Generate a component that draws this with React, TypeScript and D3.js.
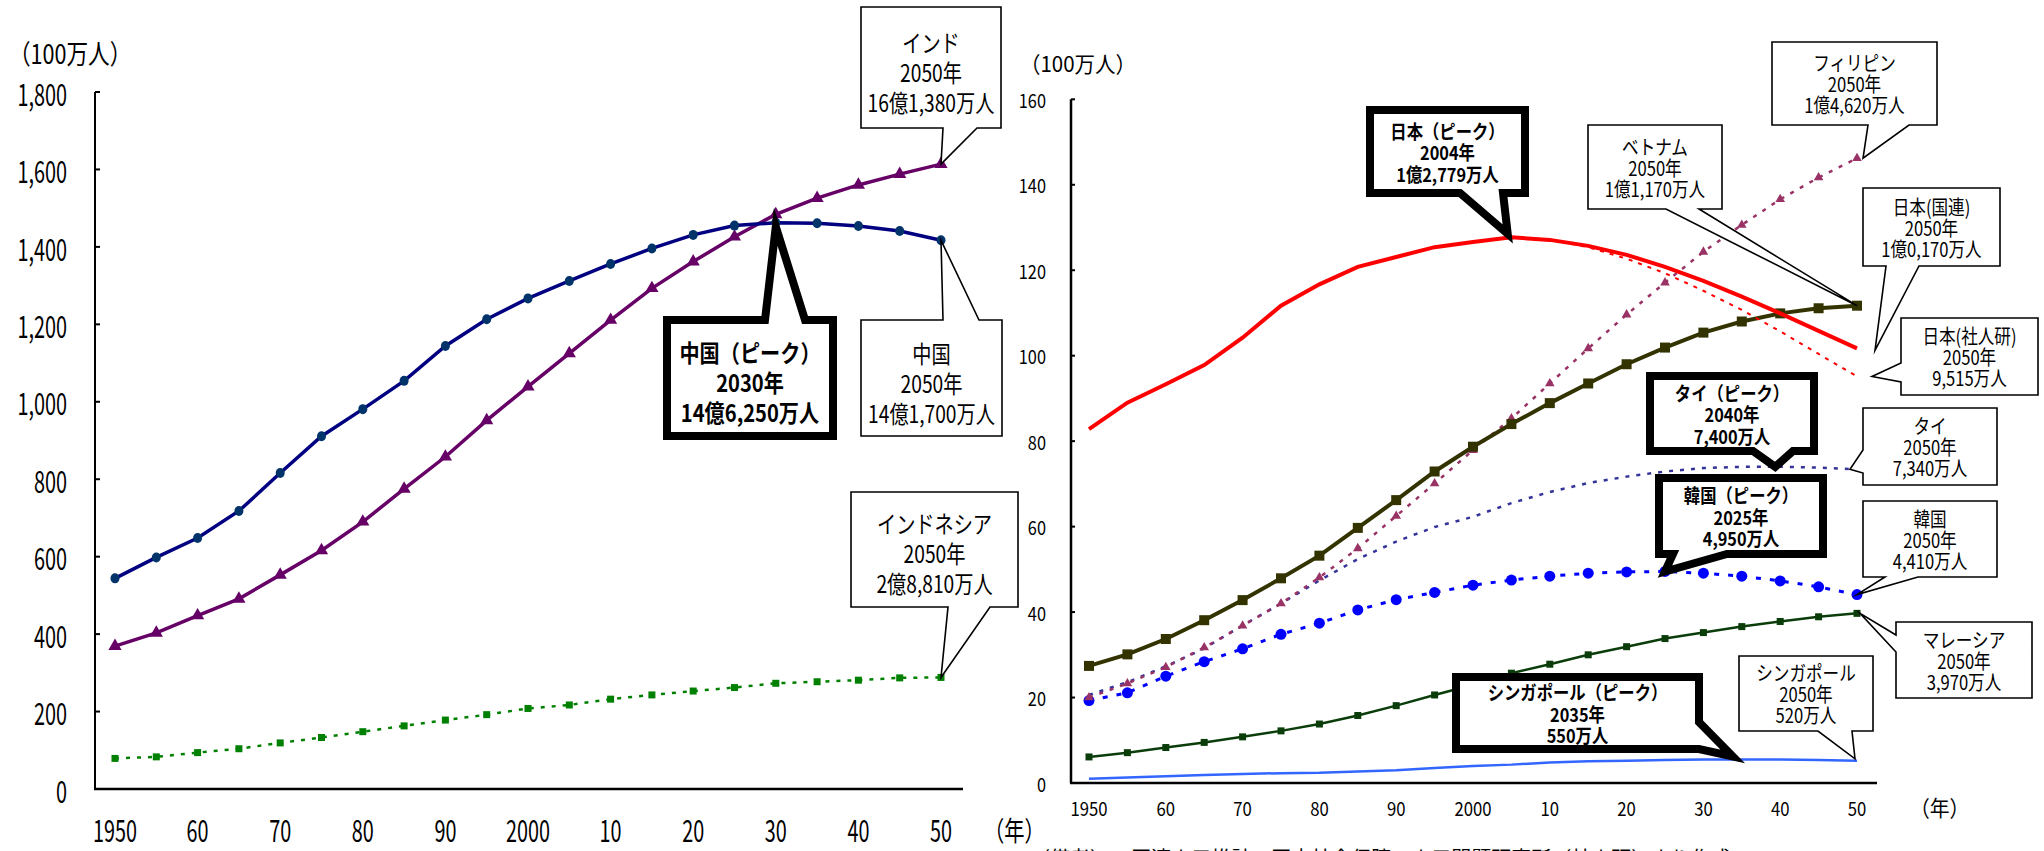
import React from 'react';
import * as d3 from 'd3';

// ---------- data ----------
const YEARS = [1950, 1955, 1960, 1965, 1970, 1975, 1980, 1985, 1990, 1995, 2000, 2005, 2010, 2015, 2020, 2025, 2030, 2035, 2040, 2045, 2050];

// left chart (million persons)
const CHINA = [544, 598, 648, 718, 816, 911, 981, 1054, 1144, 1213, 1267, 1312, 1356, 1396, 1431, 1455, 1462.5, 1461, 1454, 1441, 1417];
const INDIA = [369, 403, 448, 491, 553, 616, 690, 775, 858, 952, 1039, 1125, 1211, 1293, 1362, 1426, 1484, 1526, 1560, 1588, 1613.8];
const INDONESIA = [79, 83, 94, 104, 119, 133, 148, 163, 178, 192, 208, 217, 232, 243, 253, 262, 273, 277, 281, 287, 288.1];

const LEFT_Y_TICKS = [0, 200, 400, 600, 800, 1000, 1200, 1400, 1600, 1800];
const LEFT_Y_LABELS = ['0', '200', '400', '600', '800', '1,000', '1,200', '1,400', '1,600', '1,800'];
const X_TICKS = [1950, 1960, 1970, 1980, 1990, 2000, 2010, 2020, 2030, 2040, 2050];
const X_LABELS = ['1950', '60', '70', '80', '90', '2000', '10', '20', '30', '40', '50'];

// right chart (million persons)
const JAPAN_UN = [82.8, 89.0, 93.3, 97.8, 104.2, 111.7, 116.7, 120.8, 123.1, 125.4, 126.6, 127.7, 127.1, 125.7, 123.6, 120.8, 117.5, 113.8, 109.9, 105.8, 101.7];
const IPSS_YEARS = [2005, 2010, 2015, 2020, 2025, 2030, 2035, 2040, 2045, 2050];
const JAPAN_IPSS = [127.7, 127.2, 125.4, 122.7, 119.3, 115.2, 110.7, 105.7, 100.4, 95.15];
const VIETNAM = [27.4, 30.1, 33.7, 38.1, 42.8, 47.9, 53.2, 59.7, 66.2, 72.9, 78.7, 84.0, 88.9, 93.5, 98.0, 101.9, 105.4, 108.0, 109.9, 111.1, 111.7];
const PHILIPPINES = [20.0, 23.3, 27.1, 31.7, 36.8, 42.0, 48.1, 54.9, 62.5, 70.1, 77.9, 85.3, 93.5, 101.7, 109.6, 117.1, 124.3, 130.6, 136.6, 141.7, 146.2];
const THAILAND = [20.6, 23.6, 27.3, 31.5, 36.9, 42.0, 47.4, 52.4, 56.5, 59.9, 62.3, 65.5, 68.1, 70.2, 71.7, 72.9, 73.7, 74.0, 74.0, 73.8, 73.4];
const KOREA = [19.3, 21.1, 25.0, 28.4, 31.4, 34.8, 37.4, 40.5, 42.9, 44.6, 46.3, 47.5, 48.4, 49.1, 49.4, 49.5, 49.1, 48.4, 47.3, 45.9, 44.1];
const MALAYSIA = [6.1, 7.1, 8.3, 9.5, 10.8, 12.2, 13.8, 15.8, 18.1, 20.6, 23.0, 25.7, 27.8, 30.0, 31.9, 33.8, 35.2, 36.6, 37.8, 38.9, 39.7];
const SINGAPORE = [1.0, 1.3, 1.6, 1.9, 2.1, 2.3, 2.4, 2.7, 3.0, 3.5, 4.0, 4.3, 4.8, 5.1, 5.2, 5.4, 5.5, 5.5, 5.5, 5.4, 5.2];
const JAPAN_PEAK_YEAR = 2004;
const JAPAN_PEAK_VALUE = 127.79;

const RIGHT_Y_TICKS = [0, 20, 40, 60, 80, 100, 120, 140, 160];

const FONT = "'Noto Sans CJK JP', 'Noto Sans', sans-serif";

// ---------- helpers ----------
type TProps = { x: number; y: number; text: string; size: number; sx?: number; anchor?: string; weight?: string | number; fill?: string };
function T({ x, y, text, size, sx = 1, anchor = 'middle', weight = 'normal', fill = '#000' }: TProps) {
  return (
    <text
      transform={`translate(${x},${y}) scale(${sx},1)`}
      textAnchor={anchor as any}
      dominantBaseline="central"
      fontSize={size}
      fontWeight={weight as any}
      fontFamily={FONT}
      fill={fill}
    >
      {text}
    </text>
  );
}

type Side = 'top' | 'bottom' | 'left' | 'right';
function calloutPath(box: number[], side: Side, a: number, b: number, tip: number[], inset = 0) {
  const x0 = box[0] + inset, y0 = box[1] + inset, x1 = box[2] - inset, y1 = box[3] - inset;
  const [tx, ty] = tip;
  const p = d3.path();
  if (side === 'bottom') {
    p.moveTo(x0, y0); p.lineTo(x1, y0); p.lineTo(x1, y1); p.lineTo(b, y1); p.lineTo(tx, ty); p.lineTo(a, y1); p.lineTo(x0, y1); p.closePath();
  } else if (side === 'top') {
    p.moveTo(x0, y0); p.lineTo(a, y0); p.lineTo(tx, ty); p.lineTo(b, y0); p.lineTo(x1, y0); p.lineTo(x1, y1); p.lineTo(x0, y1); p.closePath();
  } else if (side === 'left') {
    p.moveTo(x0, y0); p.lineTo(x1, y0); p.lineTo(x1, y1); p.lineTo(x0, y1); p.lineTo(x0, b); p.lineTo(tx, ty); p.lineTo(x0, a); p.closePath();
  } else {
    p.moveTo(x0, y0); p.lineTo(x1, y0); p.lineTo(x1, a); p.lineTo(tx, ty); p.lineTo(x1, b); p.lineTo(x1, y1); p.lineTo(x0, y1); p.closePath();
  }
  return p.toString();
}

type Callout = {
  lines: string[]; box: number[]; side: Side; a: number; b: number; tip: number[];
  bold?: boolean; size: number; sx: number; gap: number; dy?: number;
};

function CalloutView({ c }: { c: Callout }) {
  const stroke = c.bold ? 8 : 1.6;
  const d = calloutPath(c.box, c.side, c.a, c.b, c.tip, c.bold ? 4 : 0);
  const cx = (c.box[0] + c.box[2]) / 2;
  const cy = (c.box[1] + c.box[3]) / 2 + (c.dy || 0);
  const n = c.lines.length;
  return (
    <g>
      <path d={d} fill="#fff" stroke="#000" strokeWidth={stroke} strokeLinejoin="miter" strokeMiterlimit={10} />
      <text
        transform={`translate(${cx},${cy}) scale(${c.sx},1)`}
        textAnchor="middle"
        dominantBaseline="central"
        fontSize={c.size}
        fontWeight={c.bold ? 'bold' : 'normal'}
        fontFamily={FONT}
        fill="#000"
      >
        {c.lines.map((t, i) => (
          <tspan key={i} x={0} y={(i - (n - 1) / 2) * c.gap}>{t}</tspan>
        ))}
      </text>
    </g>
  );
}

// ---------- component ----------
export default function App() {
  // Left chart scales
  const xL = d3.scaleLinear().domain([1950, 2050]).range([115, 941]);
  const yL = d3.scaleLinear().domain([0, 1800]).range([789, 92]);
  // Right chart scales
  const xR = d3.scaleLinear().domain([1950, 2050]).range([1089, 1857]);
  const yR = d3.scaleLinear().domain([0, 160]).range([783, 99.3]);

  const lineL = (vals: number[]) => d3.line<number>().x((_, i) => xL(YEARS[i])).y((v) => yL(v))(vals) || '';
  const lineR = (vals: number[], yrs: number[] = YEARS) => d3.line<number>().x((_, i) => xR(yrs[i])).y((v) => yR(v))(vals) || '';

  const tri = (size: number) => d3.symbol().type(d3.symbolTriangle).size(size)() || '';
  const sq = (size: number) => d3.symbol().type(d3.symbolSquare).size(size)() || '';

  const leftCallouts: Callout[] = [
    { lines: ['インド', '2050年', '16億1,380万人'], box: [861, 7, 1001, 128], side: 'bottom', a: 943, b: 977, tip: [xL(2050), yL(INDIA[20])], size: 24, sx: 0.8, gap: 30, dy: 3 },
    { lines: ['中国', '2050年', '14億1,700万人'], box: [861, 320, 1002, 436], side: 'top', a: 943, b: 979, tip: [xL(2050), yL(CHINA[20])], size: 24, sx: 0.8, gap: 30, dy: 4 },
    { lines: ['インドネシア', '2050年', '2億8,810万人'], box: [851, 492, 1018, 607], side: 'bottom', a: 948, b: 990, tip: [xL(2050), yL(INDONESIA[20])], size: 24, sx: 0.8, gap: 30, dy: 2 },
    { lines: ['中国（ピーク）', '2030年', '14億6,250万人'], box: [663, 316, 837, 440], side: 'top', a: 765, b: 805, tip: [xL(2030), yL(CHINA[16]) + 4], bold: true, size: 24, sx: 0.84, gap: 30, dy: 3 },
  ];

  const rightCallouts: Callout[] = [
    { lines: ['フィリピン', '2050年', '1億4,620万人'], box: [1772, 42, 1937, 125], side: 'bottom', a: 1868, b: 1909, tip: [xR(2050) + 6, yR(PHILIPPINES[20])], size: 20, sx: 0.83, gap: 21 },
    { lines: ['ベトナム', '2050年', '1億1,170万人'], box: [1588, 125, 1722, 209], side: 'bottom', a: 1666, b: 1699, tip: [xR(2050), yR(VIETNAM[20])], size: 20, sx: 0.83, gap: 21 },
    { lines: ['日本(国連)', '2050年', '1億0,170万人'], box: [1863, 188, 2000, 266], side: 'bottom', a: 1886, b: 1919, tip: [xR(2050) + 18, yR(JAPAN_UN[20]) + 2], size: 20, sx: 0.83, gap: 21 },
    { lines: ['日本(社人研)', '2050年', '9,515万人'], box: [1901, 318, 2038, 395], side: 'left', a: 363, b: 382, tip: [xR(2050) + 15, yR(JAPAN_IPSS[9])], size: 20, sx: 0.83, gap: 21 },
    { lines: ['タイ', '2050年', '7,340万人'], box: [1863, 408, 1997, 485], side: 'left', a: 450, b: 473, tip: [xR(2050) - 7, yR(THAILAND[20])], size: 20, sx: 0.83, gap: 21 },
    { lines: ['韓国', '2050年', '4,410万人'], box: [1863, 501, 1997, 577], side: 'bottom', a: 1885, b: 1918, tip: [xR(2050), yR(KOREA[20])], size: 20, sx: 0.83, gap: 21 },
    { lines: ['マレーシア', '2050年', '3,970万人'], box: [1896, 622, 2032, 698], side: 'left', a: 635, b: 652, tip: [xR(2050) + 3, yR(MALAYSIA[20])], size: 20, sx: 0.83, gap: 21 },
    { lines: ['シンガポール', '2050年', '520万人'], box: [1739, 656, 1873, 731], side: 'bottom', a: 1818, b: 1852, tip: [xR(2050) - 2, yR(SINGAPORE[20]) - 2], size: 20, sx: 0.83, gap: 21 },
    { lines: ['日本（ピーク）', '2004年', '1億2,779万人'], box: [1366, 106, 1529, 197], side: 'bottom', a: 1460, b: 1503, tip: [xR(JAPAN_PEAK_YEAR) + 4, yR(JAPAN_PEAK_VALUE) - 3], bold: true, size: 19, sx: 0.86, gap: 21.5 },
    { lines: ['タイ（ピーク）', '2040年', '7,400万人'], box: [1646, 372, 1818, 455], side: 'bottom', a: 1753, b: 1793, tip: [xR(2040) - 5, yR(THAILAND[18])], bold: true, size: 19, sx: 0.86, gap: 21.5 },
    { lines: ['韓国（ピーク）', '2025年', '4,950万人'], box: [1655, 474, 1827, 558], side: 'bottom', a: 1673, b: 1727, tip: [xR(2025), yR(KOREA[15])], bold: true, size: 19, sx: 0.86, gap: 21.5 },
    { lines: ['シンガポール（ピーク）', '2035年', '550万人'], box: [1452, 673, 1703, 753], side: 'right', a: 722, b: 749, tip: [xR(2035) - 9, yR(SINGAPORE[17]) - 3], bold: true, size: 19, sx: 0.86, gap: 21.5 },
  ];

  return (
    <svg width={2044} height={851} style={{ position: 'absolute', left: 0, top: 0, background: '#fff' }}>
      <rect x={0} y={0} width={2044} height={851} fill="#fff" />

      {/* ================= LEFT CHART ================= */}
      <T x={9} y={52} text="（100万人）" size={27} sx={0.8} anchor="start" />
      {LEFT_Y_TICKS.map((t, i) => (
        <g key={t}>
          <line x1={95} x2={100} y1={yL(t)} y2={yL(t)} stroke="#000" strokeWidth={2} />
          <T x={67} y={yL(t)} text={LEFT_Y_LABELS[i]} size={31} sx={0.64} anchor="end" />
        </g>
      ))}
      {X_TICKS.map((t, i) => (
        <T key={t} x={xL(t)} y={829} text={X_LABELS[i]} size={30} sx={0.66} />
      ))}
      <T x={984} y={829} text="（年）" size={27} sx={0.75} anchor="start" />
      <line x1={95} x2={95} y1={yL(1800)} y2={yL(0)} stroke="#000" strokeWidth={2} />
      <line x1={94} x2={963} y1={yL(0)} y2={yL(0)} stroke="#000" strokeWidth={2.5} />

      {/* Indonesia */}
      <path d={lineL(INDONESIA)} fill="none" stroke="#008000" strokeWidth={2.5} strokeDasharray="4,7" />
      {INDONESIA.map((v, i) => (
        <rect key={i} x={xL(YEARS[i]) - 3.5} y={yL(v) - 3.5} width={7} height={7} fill="#008000" />
      ))}
      {/* India */}
      <path d={lineL(INDIA)} fill="none" stroke="#660066" strokeWidth={3.5} />
      {INDIA.map((v, i) => (
        <path key={i} d={tri(75)} transform={`translate(${xL(YEARS[i])},${yL(v)})`} fill="#660066" />
      ))}
      {/* China */}
      <path d={lineL(CHINA)} fill="none" stroke="#000080" strokeWidth={3.5} />
      {CHINA.map((v, i) => (
        <ellipse key={i} cx={xL(YEARS[i])} cy={yL(v)} rx={4.5} ry={5} fill="#00336a" />
      ))}

      {leftCallouts.map((c, i) => <CalloutView key={i} c={c} />)}

      {/* ================= RIGHT CHART ================= */}
      <T x={1020} y={62} text="（100万人）" size={22} sx={0.93} anchor="start" />
      {RIGHT_Y_TICKS.map((t) => (
        <g key={t}>
          <line x1={1071} x2={1075} y1={yR(t)} y2={yR(t)} stroke="#000" strokeWidth={2} />
          <T x={1046} y={yR(t)} text={String(t)} size={19} sx={0.86} anchor="end" />
        </g>
      ))}
      {X_TICKS.map((t, i) => (
        <T key={t} x={xR(t)} y={808} text={X_LABELS[i]} size={19} sx={0.88} />
      ))}
      <T x={1910} y={807} text="（年）" size={22} sx={0.9} anchor="start" />
      <line x1={1071} x2={1071} y1={yR(160)} y2={yR(0)} stroke="#000" strokeWidth={2.5} />
      <line x1={1070} x2={1877} y1={yR(0)} y2={yR(0)} stroke="#000" strokeWidth={2.5} />

      {/* Singapore */}
      <path d={lineR(SINGAPORE)} fill="none" stroke="#3366FF" strokeWidth={2.5} />
      {/* Malaysia */}
      <path d={lineR(MALAYSIA)} fill="none" stroke="#0b3d0b" strokeWidth={2.5} />
      {MALAYSIA.map((v, i) => (
        <rect key={i} x={xR(YEARS[i]) - 3.5} y={yR(v) - 3.5} width={7} height={7} fill="#0b3d0b" />
      ))}
      {/* Korea */}
      <path d={lineR(KOREA)} fill="none" stroke="#0000FF" strokeWidth={3} strokeDasharray="5,9" />
      {KOREA.map((v, i) => (
        <circle key={i} cx={xR(YEARS[i])} cy={yR(v)} r={5.5} fill="#0000FF" />
      ))}
      {/* Thailand */}
      <path d={lineR(THAILAND)} fill="none" stroke="#333399" strokeWidth={2.5} strokeDasharray="4,7" />
      {/* Philippines */}
      <path d={lineR(PHILIPPINES)} fill="none" stroke="#993366" strokeWidth={2.5} strokeDasharray="4,7" />
      {PHILIPPINES.map((v, i) => (
        <path key={i} d={tri(40)} transform={`translate(${xR(YEARS[i])},${yR(v)})`} fill="#993366" />
      ))}
      {/* Vietnam */}
      <path d={lineR(VIETNAM)} fill="none" stroke="#333300" strokeWidth={4} />
      {VIETNAM.map((v, i) => (
        <path key={i} d={sq(100)} transform={`translate(${xR(YEARS[i])},${yR(v)})`} fill="#333300" />
      ))}
      {/* Japan IPSS */}
      <path d={lineR(JAPAN_IPSS, IPSS_YEARS)} fill="none" stroke="#FF0000" strokeWidth={2} strokeDasharray="4,6" />
      {/* Japan UN */}
      <path d={lineR(JAPAN_UN)} fill="none" stroke="#FF0000" strokeWidth={4} />

      {rightCallouts.map((c, i) => <CalloutView key={i} c={c} />)}

      <T x={1030} y={857} text="（備考）1. 国連人口推計、国立社会保障・人口問題研究所（社人研）より作成" size={20} sx={1} anchor="start" />
    </svg>
  );
}
